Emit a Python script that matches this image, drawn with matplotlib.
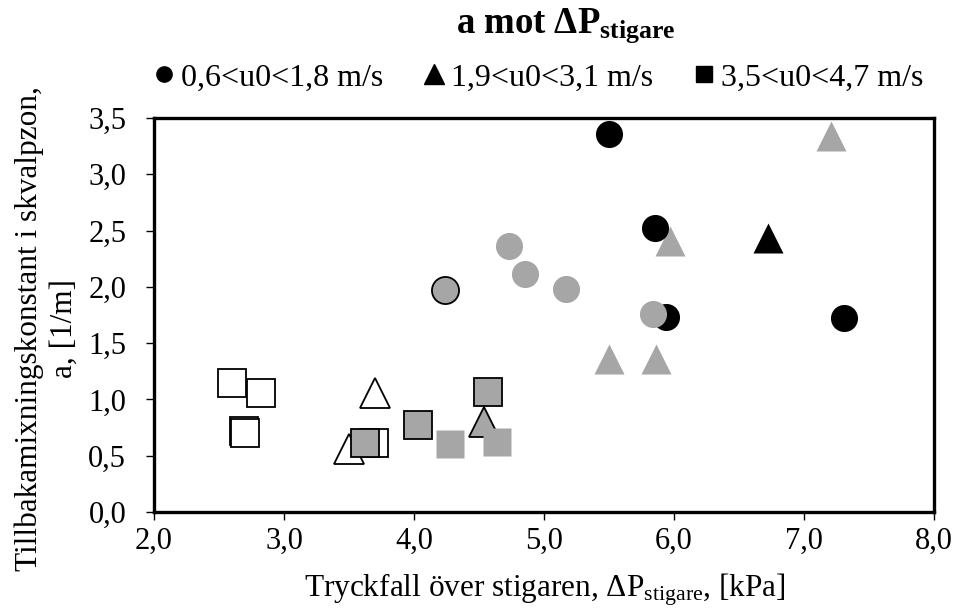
import matplotlib
matplotlib.use('Agg')
from matplotlib import pyplot as plt
from matplotlib.lines import Line2D

plt.rcParams['font.family'] = ['Liberation Serif', 'DejaVu Serif']
plt.rcParams['mathtext.fontset'] = 'custom'
plt.rcParams['mathtext.rm'] = 'Liberation Serif'
plt.rcParams['mathtext.it'] = 'Liberation Serif:italic'
plt.rcParams['mathtext.bf'] = 'Liberation Serif:bold'

# svart fyllda
svart_cirkel_x = [5.50, 5.85, 5.94, 7.31]
svart_cirkel_y = [3.36, 2.52, 1.73, 1.72]
svart_triangel_x = [6.72]
svart_triangel_y = [2.43]

# ljusgra utan kant
gra_cirkel_x = [4.73, 4.85, 5.17, 5.84]
gra_cirkel_y = [2.36, 2.11, 1.98, 1.76]
gra_triangel_x = [5.50, 5.86, 5.97, 7.21]
gra_triangel_y = [1.36, 1.36, 2.41, 3.34]
gra_kvadrat_x = [4.28, 4.64]
gra_kvadrat_y = [0.60, 0.62]

# gra med svart kant
kant_cirkel_x = [4.24]
kant_cirkel_y = [1.97]
kant_triangel_x = [4.54]
kant_triangel_y = [0.80]
kant_kvadrat_x = [3.62, 4.03, 4.57]
kant_kvadrat_y = [0.61, 0.77, 1.07]

# vita med svart kant
vit_triangel_x = [3.70, 3.50]
vit_triangel_y = [1.06, 0.56]
vit_kvadrat_x = [2.60, 2.82, 2.69, 2.70, 3.69]
vit_kvadrat_y = [1.15, 1.06, 0.72, 0.70, 0.61]

xticks = [2.0, 3.0, 4.0, 5.0, 6.0, 7.0, 8.0]
yticks = [0.0, 0.5, 1.0, 1.5, 2.0, 2.5, 3.0, 3.5]
legend_labels = ['0,6<u0<1,8 m/s', '1,9<u0<3,1 m/s', '3,5<u0<4,7 m/s']

GRA = '#a6a6a6'
fs_tick = 22
fs_axis = 22.5
fs_leg = 23
fs_title = 26.5

fig = plt.figure(figsize=(9.57, 6.12), dpi=100)
ax = fig.add_axes([154 / 957, 1 - 512 / 612, 780 / 957, 394 / 612])

ms_c = 19.5
ms_s = 19.5
ms_t = 21

ax.plot(vit_kvadrat_x, vit_kvadrat_y, 's', ms=ms_s, mfc='white', mec='black', mew=1.3, zorder=2)
ax.plot(vit_triangel_x, vit_triangel_y, '^', ms=ms_t, mfc='white', mec='black', mew=1.3, zorder=2)
ax.plot(kant_kvadrat_x, kant_kvadrat_y, 's', ms=ms_s, mfc=GRA, mec='black', mew=1.3, zorder=3)
ax.plot(kant_triangel_x, kant_triangel_y, '^', ms=ms_t, mfc=GRA, mec='black', mew=1.3, zorder=3)
ax.plot(kant_cirkel_x, kant_cirkel_y, 'o', ms=ms_c, mfc=GRA, mec='black', mew=1.3, zorder=3)
ax.plot(gra_kvadrat_x, gra_kvadrat_y, 's', ms=ms_s, mfc=GRA, mec='none', zorder=4)
ax.plot(gra_triangel_x, gra_triangel_y, '^', ms=ms_t, mfc=GRA, mec='none', zorder=4)
ax.plot(svart_cirkel_x, svart_cirkel_y, 'o', ms=ms_c, mfc='black', mec='none', zorder=5)
ax.plot(svart_triangel_x, svart_triangel_y, '^', ms=ms_t, mfc='black', mec='none', zorder=5)
ax.plot(gra_cirkel_x, gra_cirkel_y, 'o', ms=ms_c, mfc=GRA, mec='none', zorder=6)

ax.set_xlim(2.0, 8.0)
ax.set_ylim(0.0, 3.5)
ax.set_xticks(xticks)
ax.set_yticks(yticks)
ax.set_xticklabels([f'{v:.1f}'.replace('.', ',') for v in xticks], fontsize=fs_tick)
ax.set_yticklabels([f'{v:.1f}'.replace('.', ',') for v in yticks], fontsize=fs_tick)
ax.tick_params(direction='out', length=6, width=1.0, color='black')
ax.tick_params(axis='x', pad=5)
ax.tick_params(axis='y', pad=14)
for s in ax.spines.values():
    s.set_linewidth(2.4)
    s.set_color('black')

fig.text(545 / 957, 1 - 596 / 612, 'Tryckfall över stigaren, ΔP$_{\\mathrm{stigare}}$, [kPa]',
         ha='center', va='baseline', fontsize=fs_axis)
fig.text(47 / 957, 1 - 329 / 612, 'Tillbakamixningskonstant i skvalpzon,\na, [1/m]',
         ha='center', va='center', rotation=90, fontsize=fs_axis, linespacing=1.25,
         multialignment='center')
fig.text(566 / 957, 1 - 33 / 612, 'a mot ΔP$_{\\mathbf{stigare}}$',
         ha='center', va='baseline', fontsize=fs_title, fontweight='bold')

handles = [Line2D([], [], ls='none', marker='o', ms=11, mfc='black', mec='black'),
           Line2D([], [], ls='none', marker='^', ms=14, mfc='black', mec='black'),
           Line2D([], [], ls='none', marker='s', ms=12, mfc='black', mec='black')]
fig.legend(handles, legend_labels, loc='center', bbox_to_anchor=(539 / 957, 1 - 78 / 612),
           ncol=3, frameon=False, fontsize=fs_leg, handlelength=0.6, handletextpad=0.23,
           columnspacing=1.3, borderpad=0)

fig.savefig('out.png', dpi=100)
